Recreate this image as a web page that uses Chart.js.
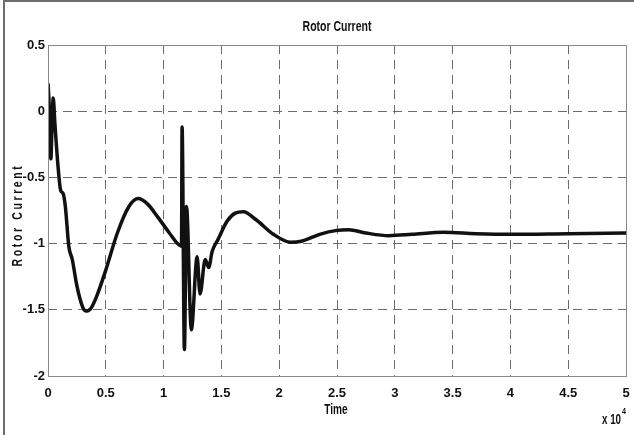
<!DOCTYPE html>
<html>
<head>
<meta charset="utf-8">
<script src="https://cdn.jsdelivr.net/npm/chart.js@4.4.1/dist/chart.umd.min.js"></script>
<style>
  html, body { margin: 0; padding: 0; background: #fff; overflow: hidden; }
  #wrap { position: relative; width: 634px; height: 435px; }
</style>
</head>
<body>
<div id="wrap"><canvas id="rotor"></canvas></div>
<script>
// values (time in seconds, shown as x 10^4)
var timeValues = [
    0, 100, 250, 350, 450, 600, 900, 1100, 1300, 1500, 1800, 2100, 2500, 3000, 3300,
    3700, 4200, 5000, 6000, 7000, 7800, 8600, 9500, 10500, 11200, 11550, 11600,
    11800, 11980, 12400, 12900, 13150, 13600, 13900, 14200, 14700, 15500, 16200,
    16900, 18000, 19500, 21000, 22000, 23500, 25000, 26000, 27500, 29500, 31500,
    34200, 37000, 40000, 45000, 50000
];
var currentValues = [
    0.21, 0.05, -0.36, -0.10, 0.10, -0.10, -0.45, -0.60, -0.62, -0.72, -1.02, -1.12,
    -1.32, -1.48, -1.51, -1.49, -1.40, -1.20, -0.92, -0.72, -0.66, -0.70, -0.80,
    -0.92, -1.00, -1.02, -0.12, -1.80, -0.72, -1.65, -1.10, -1.38, -1.12, -1.18,
    -1.06, -0.97, -0.83, -0.77, -0.76, -0.82, -0.93, -0.99, -0.98, -0.93, -0.90,
    -0.895, -0.92, -0.94, -0.93, -0.915, -0.925, -0.93, -0.925, -0.92
];
var xTicks = [0, 0.5, 1, 1.5, 2, 2.5, 3, 3.5, 4, 4.5, 5];
var yTicks = [0.5, 0, -0.5, -1, -1.5, -2];

var points = timeValues.map(function (t, i) {
    return { x: t, y: currentValues[i] };
});

var FONT = "'Liberation Sans', Arial, sans-serif";

var edgeGrid = function (ctx) {
    if (ctx.tick === undefined) return 'rgba(0,0,0,0)';
    var v = ctx.tick.value;
    if (v === 0 && ctx.scale.axis === 'x') return 'rgba(0,0,0,0)';
    if (v === 50000 || v === 0.5 || v === -2) return 'rgba(0,0,0,0)';
    return '#6b6b6b';
};

// condensed bold text, like the narrow face of the original
function narrowText(c, txt, x, y, size, align, squeeze) {
    c.save();
    c.font = 'bold ' + size + 'px ' + FONT;
    c.textAlign = align;
    c.textBaseline = 'middle';
    c.translate(x, y);
    c.scale(squeeze, 1);
    c.fillText(txt, 0, 0);
    c.restore();
}

var extras = {
    id: 'extras',
    afterDraw: function (chart) {
        var c = chart.ctx;
        var a = chart.chartArea;
        c.save();
        // plot box
        c.strokeStyle = '#8a8a8a';
        c.lineWidth = 1;
        c.setLineDash([]);
        c.strokeRect(a.left + 0.5, a.top + 0.5, a.right - a.left, a.bottom - a.top);
        // figure frame (left and top only)
        c.strokeStyle = '#6e6e6e';
        c.lineWidth = 2;
        c.beginPath();
        c.moveTo(4, 435);
        c.lineTo(4, 1);
        c.lineTo(634, 1);
        c.stroke();

        c.fillStyle = '#111';
        var mid = (a.left + a.right) / 2;
        narrowText(c, 'Rotor Current', mid, 27, 15, 'center', 0.7);
        narrowText(c, 'Time', 336, 410, 14, 'center', 0.72);
        narrowText(c, 'x 10', 602, 420, 14, 'left', 0.7);
        narrowText(c, '4', 622, 412, 9, 'left', 0.8);

        // y title, spaced letters
        c.translate(18, 215);
        c.rotate(-Math.PI / 2);
        c.scale(0.75, 1);
        c.textAlign = 'center';
        c.textBaseline = 'middle';
        c.font = 'bold 14px ' + FONT;
        c.letterSpacing = '3.5px';
        c.fillText('Rotor Current', 0, 0);
        c.restore();
    }
};

var ctx = document.getElementById('rotor');
var rotorChart = new Chart(ctx, {
    type: 'line',
    data: {
        datasets: [{
            label: 'Rotor Current',
            data: points,
            borderColor: '#111',
            borderWidth: 3.5,
            pointRadius: 0,
            fill: false,
            cubicInterpolationMode: 'monotone'
        }]
    },
    options: {
        responsive: true,
        maintainAspectRatio: false,
        animation: false,
        layout: { padding: { left: 0, top: 45, right: 8, bottom: 0 } },
        plugins: {
            legend: { display: false },
            tooltip: { enabled: false }
        },
        scales: {
            x: {
                type: 'linear',
                min: 0,
                max: 50000,
                afterBuildTicks: function (scale) {
                    scale.ticks = xTicks.map(function (v) { return { value: v * 10000 }; });
                },
                afterFit: function (scale) {
                    scale.height = 59;
                    scale.paddingLeft = 0;
                    scale.paddingRight = 0;
                },
                ticks: {
                    padding: 10,
                    color: '#111',
                    font: { family: FONT, size: 13, weight: 'bold' },
                    maxRotation: 0,
                    callback: function (v) { return String(v / 10000); }
                },
                grid: {
                    color: edgeGrid,
                    drawTicks: false,
                    lineWidth: 1
                },
                border: { display: false, dash: [9, 6] }
            },
            y: {
                min: -2,
                max: 0.5,
                afterBuildTicks: function (scale) {
                    scale.ticks = yTicks.map(function (v) { return { value: v }; });
                },
                afterFit: function (scale) {
                    scale.width = 48;
                    scale.paddingTop = 0;
                    scale.paddingBottom = 0;
                },
                ticks: {
                    padding: 3,
                    color: '#111',
                    font: { family: FONT, size: 13, weight: 'bold' },
                    callback: function (v) { return String(v); }
                },
                grid: {
                    color: edgeGrid,
                    drawTicks: false,
                    lineWidth: 1
                },
                border: { display: false, dash: [9, 6] }
            }
        }
    },
    plugins: [extras]
});
</script>
</body>
</html>
